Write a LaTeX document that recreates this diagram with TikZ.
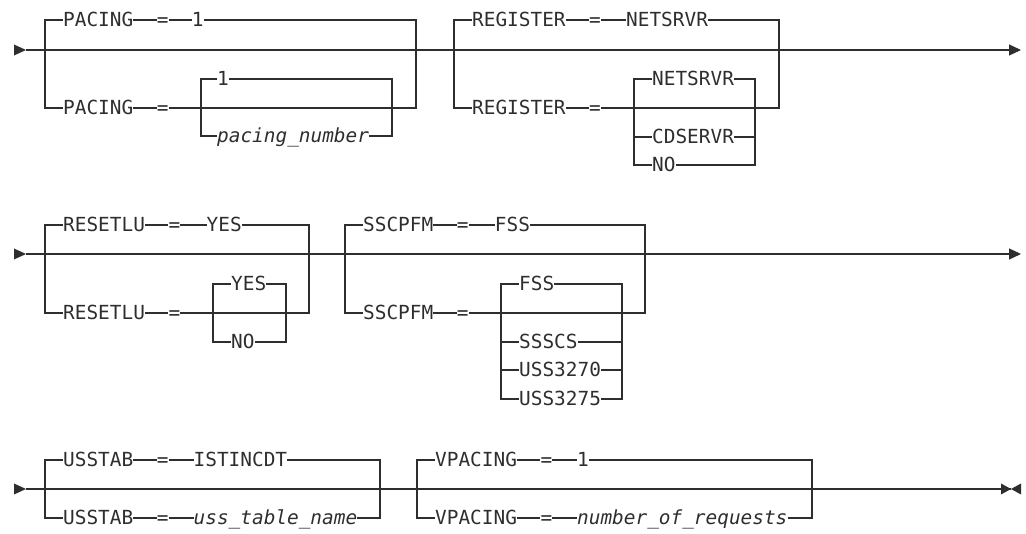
\documentclass[tikz,border=0pt]{standalone}
\usepackage{fontspec}
\setmonofont{DejaVu Sans Mono}
\usetikzlibrary{arrows.meta}
\definecolor{railInk}{HTML}{2E2E2E}

\begin{document}
\begin{tikzpicture}[x=1pt, y=-1pt,
    rail/.style={railInk, line width=1.2pt},
    kw/.style={font=\fontsize{19.4}{22}\selectfont\ttfamily, text=railInk, inner sep=0pt,
      text height=14pt, text depth=0pt, anchor=west},
    var/.style={kw, font=\fontsize{19.4}{22}\selectfont\ttfamily\itshape}]
  \useasboundingbox (0,0) rectangle (1026,534);

  % main lines
  \coordinate (r1in) at (26,50);  \coordinate (r1out) at (1021,50);
  \coordinate (r2in) at (26,254); \coordinate (r2out) at (1021,254);
  \coordinate (r3in) at (26,489); \coordinate (r3out) at (1011,489);
  \foreach \r in {r1,r2} {
    \fill[railInk] (\r in) -- ++(-12,-5.5) -- ++(0,11) -- cycle;
    \draw[rail, -{Triangle[length=12pt,width=11pt]}] (\r in) -- (\r out);
  }
  \fill[railInk] (r3in) -- ++(-12,-5.5) -- ++(0,11) -- cycle;
  \draw[rail] (r3in) -- (r3out);
  \fill[railInk] (r3out) -- ++(-10,-5.5) -- ++(0,11) -- cycle;
  \fill[railInk] (r3out) -- ++(10,-5.5) -- ++(0,11) -- cycle;

  % PACING
  \coordinate (pacL) at (45,50);  \coordinate (pacR) at (416,50);
  \coordinate (pnL) at (201,108); \coordinate (pnR) at (392,108);
  \node[kw] (pacA) at (63,20) {PACING};
  \node[kw] (pacEqA) at (156.6,20) {=};
  \node[kw] (pacOneA) at (191.7,20) {1};
  \node[kw] (pacB) at (63,108) {PACING};
  \node[kw] (pacEqB) at (156.6,108) {=};
  \node[kw] (pnOne) at (217,79) {1};
  \node[var] (pnNum) at (217,136) {pacing\_number};
  \draw[rail] (pacL) |- (pacA) -- (pacEqA) -- (pacOneA) -| (pacR);
  \draw[rail] (pacL) |- (pacB) -- (pacEqB) -- (pnL) -- (pnR) -| (pacR);
  \draw[rail] (pnL) |- (pnOne) -| (pnR);
  \draw[rail] (pnL) |- (pnNum) -| (pnR);

  % REGISTER
  \coordinate (regL) at (454,50);   \coordinate (regR) at (779,50);
  \coordinate (rgL) at (634,108);   \coordinate (rgR) at (755,108);
  \node[kw] (regA) at (472,20) {REGISTER};
  \node[kw] (regEqA) at (589,20) {=};
  \node[kw] (regValA) at (626,20) {NETSRVR};
  \node[kw] (regB) at (472,108) {REGISTER};
  \node[kw] (regEqB) at (589,108) {=};
  \draw[rail] (regL) |- (regA) -- (regEqA) -- (regValA) -| (regR);
  \draw[rail] (regL) |- (regB) -- (regEqB) -- (rgL) -- (rgR) -| (regR);
  \foreach \n/\t/\y in {rgNet/NETSRVR/79, rgCds/CDSERVR/137, rgNo/NO/165} {
    \node[kw] (\n) at (652,\y) {\t};
    \draw[rail] (rgL) |- (\n) -| (rgR);
  }

  % RESETLU
  \coordinate (rstL) at (45,254);  \coordinate (rstR) at (309,254);
  \coordinate (rsL) at (213,313);  \coordinate (rsR) at (286,313);
  \node[kw] (rstA) at (63,225) {RESETLU};
  \node[kw] (rstEqA) at (168.3,225) {=};
  \node[kw] (rstValA) at (206.5,225) {YES};
  \node[kw] (rstB) at (63,313) {RESETLU};
  \node[kw] (rstEqB) at (168.3,313) {=};
  \draw[rail] (rstL) |- (rstA) -- (rstEqA) -- (rstValA) -| (rstR);
  \draw[rail] (rstL) |- (rstB) -- (rstEqB) -- (rsL) -- (rsR) -| (rstR);
  \foreach \n/\t/\y in {rsYes/YES/284, rsNo/NO/342} {
    \node[kw] (\n) at (231,\y) {\t};
    \draw[rail] (rsL) |- (\n) -| (rsR);
  }

  % SSCPFM
  \coordinate (sscL) at (345,254); \coordinate (sscR) at (645,254);
  \coordinate (scL) at (501,313);  \coordinate (scR) at (622,313);
  \node[kw] (sscA) at (363,225) {SSCPFM};
  \node[kw] (sscEqA) at (456.6,225) {=};
  \node[kw] (sscValA) at (494.7,225) {FSS};
  \node[kw] (sscB) at (363,313) {SSCPFM};
  \node[kw] (sscEqB) at (456.6,313) {=};
  \draw[rail] (sscL) |- (sscA) -- (sscEqA) -- (sscValA) -| (sscR);
  \draw[rail] (sscL) |- (sscB) -- (sscEqB) -- (scL) -- (scR) -| (sscR);
  \foreach \n/\t/\y in {scFss/FSS/284, scSss/SSSCS/342, scU70/USS3270/370, scU75/USS3275/399} {
    \node[kw] (\n) at (519,\y) {\t};
    \draw[rail] (scL) |- (\n) -| (scR);
  }

  % USSTAB
  \coordinate (usL) at (45,489);  \coordinate (usR) at (380,489);
  \node[kw] (usA) at (63,460) {USSTAB};
  \node[kw] (usEqA) at (156.6,460) {=};
  \node[kw] (usValA) at (193.5,460) {ISTINCDT};
  \node[kw] (usB) at (63,518) {USSTAB};
  \node[kw] (usEqB) at (156.6,518) {=};
  \node[var] (usValB) at (193.5,518) {uss\_table\_name};
  \draw[rail] (usL) |- (usA) -- (usEqA) -- (usValA) -| (usR);
  \draw[rail] (usL) |- (usB) -- (usEqB) -- (usValB) -| (usR);

  % VPACING
  \coordinate (vpL) at (417,489); \coordinate (vpR) at (812,489);
  \node[kw] (vpA) at (435,460) {VPACING};
  \node[kw] (vpEqA) at (540.3,460) {=};
  \node[kw] (vpValA) at (577,460) {1};
  \node[kw] (vpB) at (435,518) {VPACING};
  \node[kw] (vpEqB) at (540.3,518) {=};
  \node[var] (vpValB) at (577,518) {number\_of\_requests};
  \draw[rail] (vpL) |- (vpA) -- (vpEqA) -- (vpValA) -| (vpR);
  \draw[rail] (vpL) |- (vpB) -- (vpEqB) -- (vpValB) -| (vpR);
  \coordinate (vpTickA) at (817,489); \coordinate (vpTickB) at (842,489);
  \draw[railInk, line width=2.6pt] (vpTickA) -- (vpTickB);
\end{tikzpicture}
\end{document}
